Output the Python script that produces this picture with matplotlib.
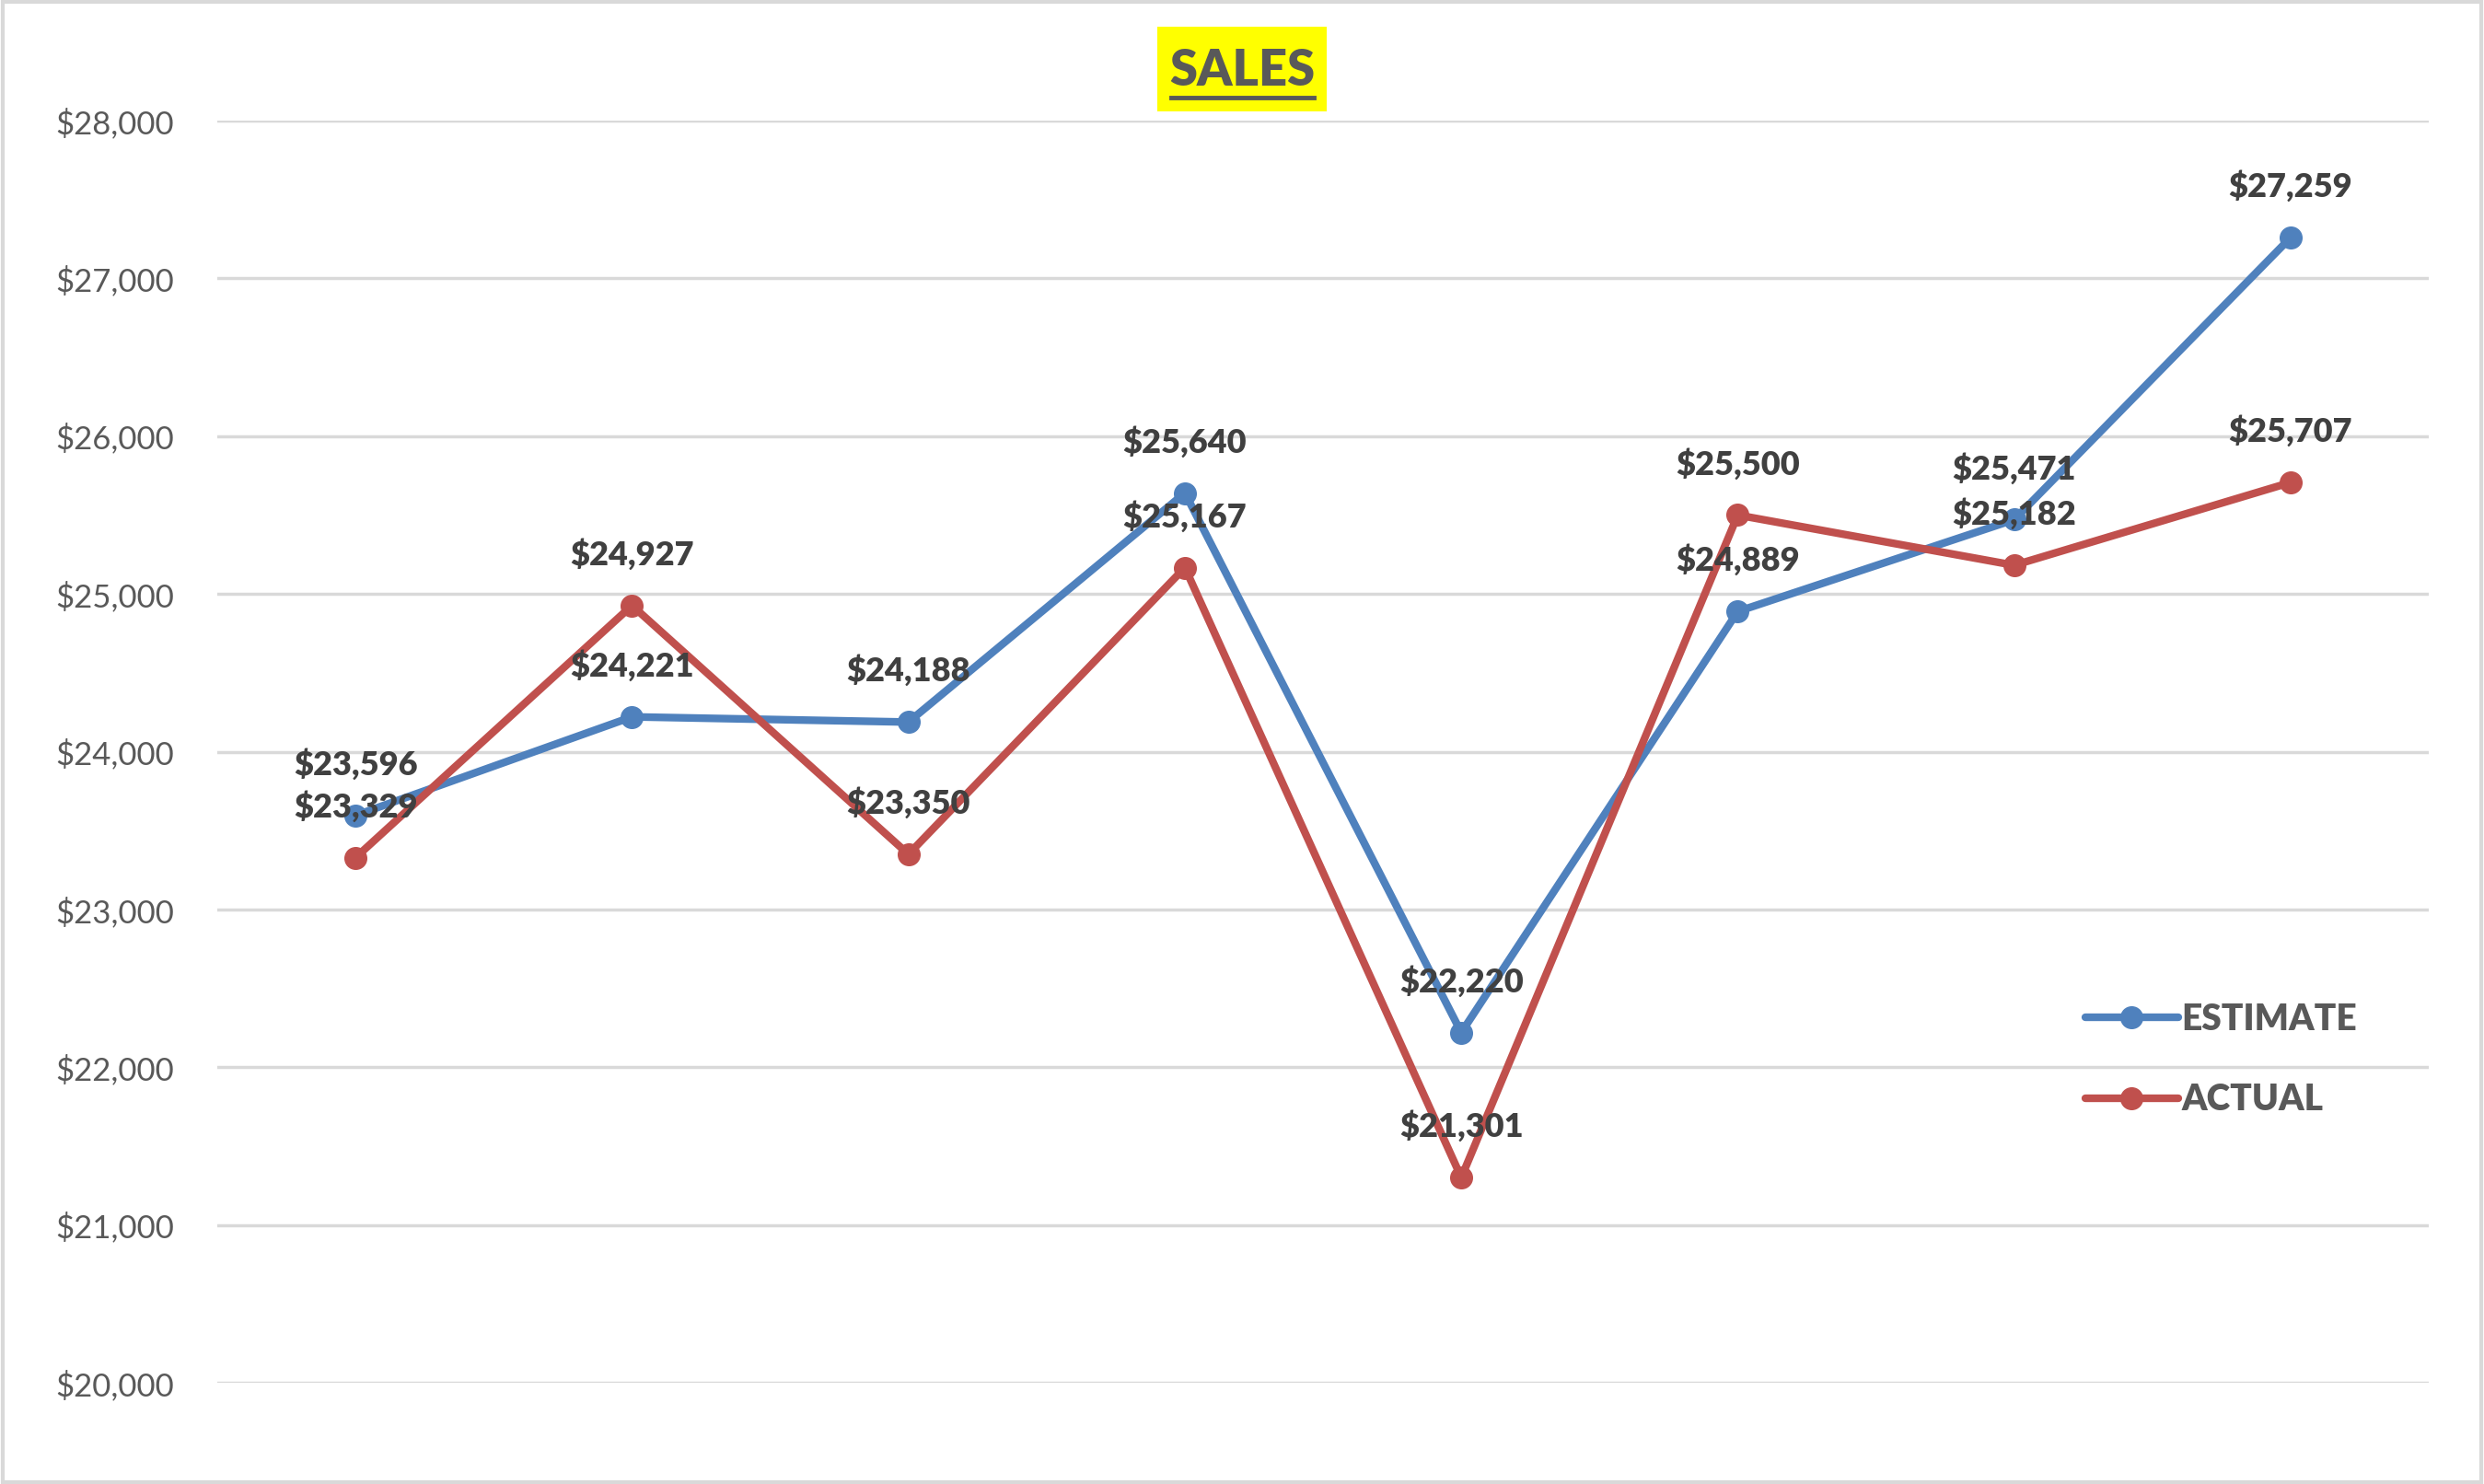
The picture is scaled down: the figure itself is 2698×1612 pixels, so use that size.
import numpy as np
import matplotlib.pyplot as plt
from matplotlib.ticker import FuncFormatter
from matplotlib.patches import Rectangle

plt.rcParams['font.family'] = ['Lato', 'DejaVu Sans']

# datos
meses = list(range(8))
estimate = [23596, 24221, 24188, 25640, 22220, 24889, 25471, 27259]
actual = [23329, 24927, 23350, 25167, 21301, 25500, 25182, 25707]
y_ticks = list(range(20000, 28001, 1000))

azul = '#4F81BD'
rojo = '#C0504D'
gris_texto = '#595959'

fig = plt.figure(figsize=(26.98, 16.12), dpi=100)
ax = fig.add_axes([0.0875, 0.0682, 0.8903, 0.8505])

# Borde gris del grafico
fig.patches.append(Rectangle((0.001, 0.001), 0.998, 0.998, transform=fig.transFigure,
                             fill=False, edgecolor='#D9D9D9', lw=3))

for serie, color, nombre in [(estimate, azul, 'ESTIMATE'), (actual, rojo, 'ACTUAL')]:
    ax.plot(meses, serie, color=color, lw=6, marker='o', markersize=17,
            solid_capstyle='round', label=nombre, zorder=3)

# Etiquetas de datos encima de cada punto
for serie in [estimate, actual]:
    for x, y in zip(meses, serie):
        ax.annotate(f'${y:,}', (x, y), xytext=(0, 40), textcoords='offset points',
                    ha='center', va='center', fontsize=26, fontweight='heavy',
                    color='#404040', zorder=5)

ax.set_xlim(-0.5, 7.5)
ax.set_ylim(20000, 28000)
ax.set_yticks(y_ticks)
ax.yaxis.set_major_formatter(FuncFormatter(lambda v, p: f'${int(v):,}'))
ax.tick_params(axis='y', length=0, pad=34, labelsize=25, labelcolor=gris_texto)
ax.set_xticks([])
ax.grid(axis='y', color='#D9D9D9', lw=2.5)
ax.set_axisbelow(True)
for lado in ax.spines.values():
    lado.set_visible(False)

# Titulo con fondo amarillo y subrayado
fig.patches.append(Rectangle((0.4659, 0.9249), 0.0682, 0.0571, transform=fig.transFigure,
                             facecolor='#FFFF00', edgecolor='none', zorder=1))
fig.text(0.5, 0.9525, 'SALES', ha='center', va='center', fontsize=39,
         fontweight='heavy', color=gris_texto, zorder=2)
fig.add_artist(plt.Line2D([0.4715, 0.5289], [0.9345, 0.9345], transform=fig.transFigure,
                          color=gris_texto, lw=3.5, zorder=3))

leg = ax.legend(loc='center left', bbox_to_anchor=(0.838, 0.256), frameon=False,
                prop={'size': 28, 'weight': 'heavy'}, handlelength=2.6,
                handletextpad=0.1, labelspacing=1.3, borderaxespad=0)
for t in leg.get_texts():
    t.set_color(gris_texto)

plt.savefig('out.png', dpi=100)
